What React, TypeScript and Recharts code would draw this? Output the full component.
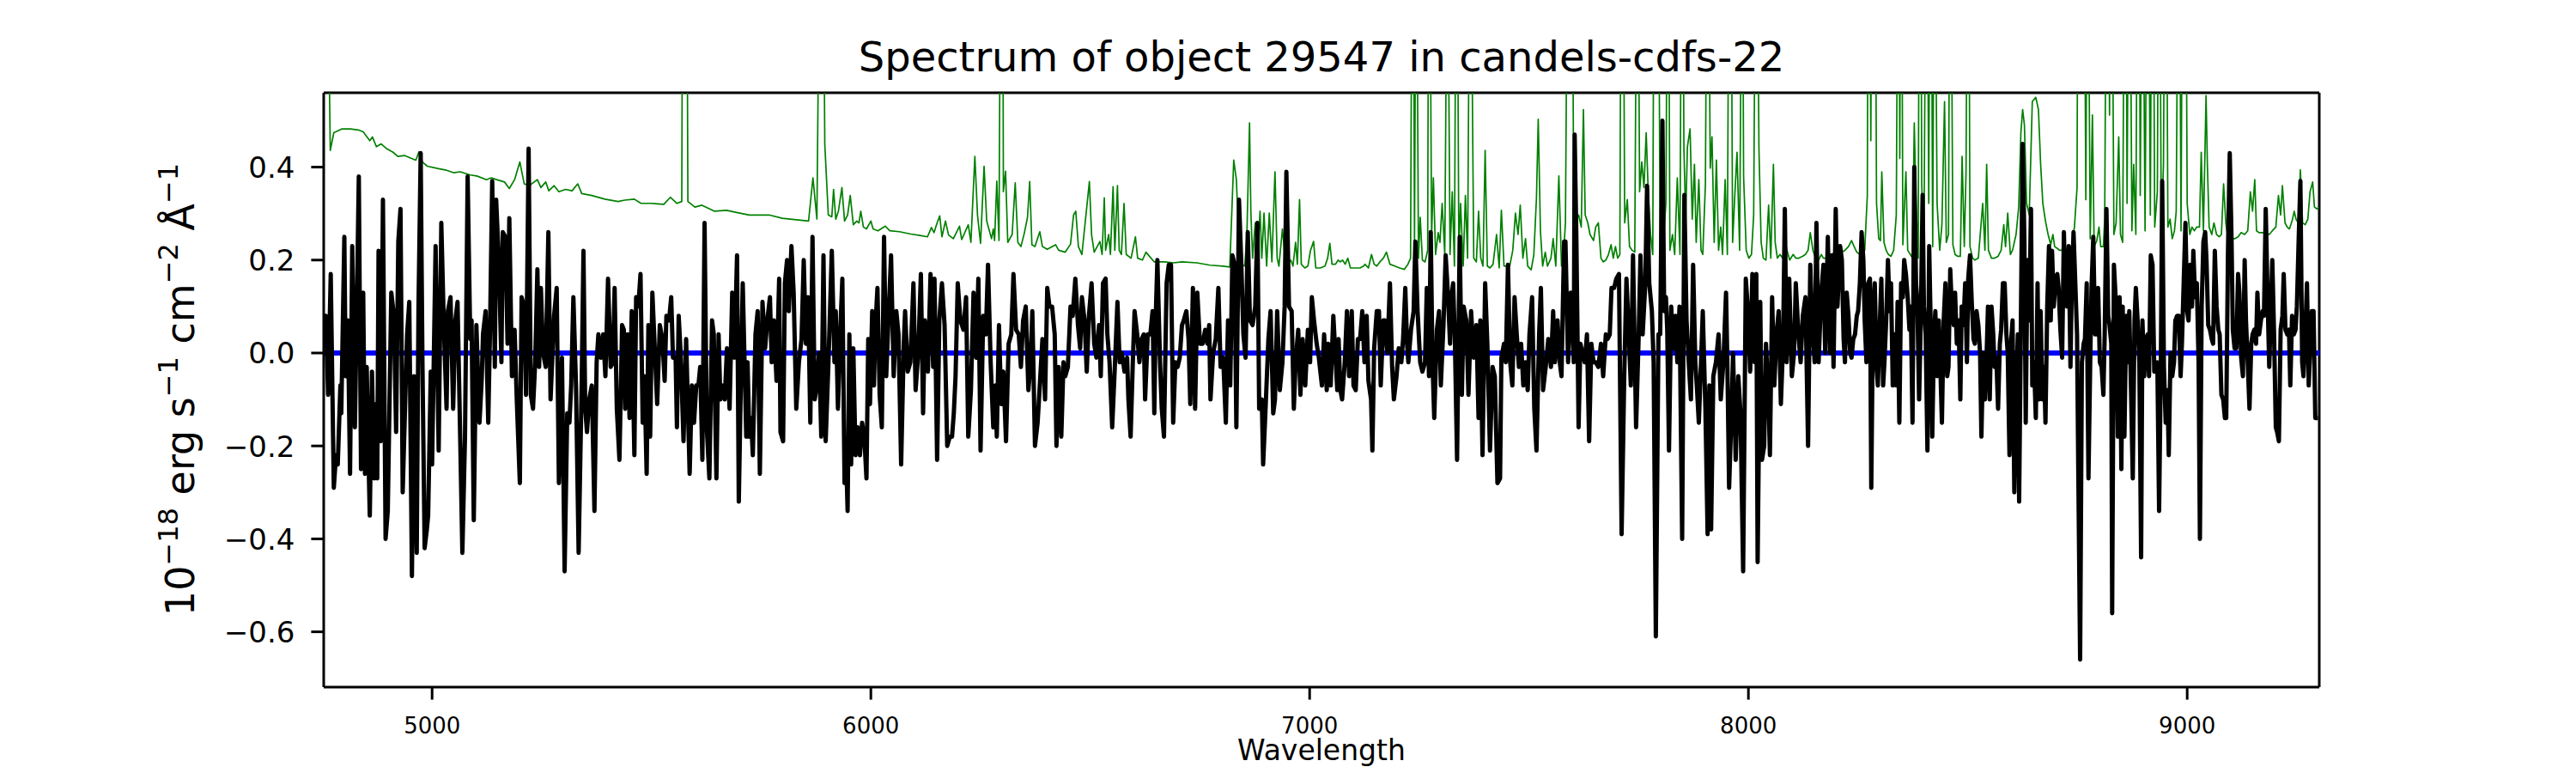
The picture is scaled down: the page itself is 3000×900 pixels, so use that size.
import React from 'react';
import { LineChart, Line, XAxis, YAxis, ReferenceLine } from 'recharts';

// observed spectrum, [wavelength (Å), flux (1e-18 erg/s/cm2/Å)]
const OBS_A: [number, number][] = [
  [4753, 0.07], [4758, 0.08], [4763, -0.09], [4769, 0.17], [4776, -0.29], [4781, -0.22], [4785, -0.24], [4791, -0.07],
  [4793, -0.13], [4800, 0.25], [4803, -0.05], [4808, 0.07], [4813, -0.26], [4818, 0.23], [4824, -0.16], [4828, 0.07],
  [4833, 0.38], [4838, -0.25], [4843, 0.13], [4847, -0.26], [4851, -0.03], [4854, -0.18], [4858, -0.35], [4863, -0.04],
  [4868, -0.27], [4872, -0.11], [4875, -0.27], [4878, 0.22], [4883, -0.19], [4888, 0.33], [4894, -0.4], [4899, -0.34],
  [4907, 0.13], [4913, 0.08], [4918, -0.17], [4923, 0.24], [4928, 0.31], [4933, -0.3], [4943, 0.04], [4948, 0.11],
  [4954, -0.48], [4959, -0.05], [4965, -0.43], [4969, 0.1], [4974, 0.43], [4978, -0.02], [4983, -0.42], [4988, -0.38],
  [4991, -0.35], [4997, -0.04], [5000, -0.24], [5008, 0.23], [5015, -0.21], [5021, 0.28], [5027, 0.05], [5033, -0.12],
  [5036, 0.09], [5042, 0.12], [5048, -0.12], [5053, 0.07], [5058, 0.11], [5064, -0.18], [5069, -0.43], [5075, -0.18],
  [5081, 0.38], [5087, 0.03], [5090, 0.07], [5095, -0.36], [5101, 0.06], [5108, -0.15], [5113, -0.06], [5116, 0.04],
  [5122, 0.09], [5128, -0.15], [5132, 0.05], [5137, 0.37], [5143, -0.03], [5146, 0.33], [5152, 0.2], [5158, -0.02],
  [5161, 0.26], [5167, 0.25], [5172, 0.02], [5176, 0.29], [5182, -0.05], [5188, 0.05], [5193, -0.1], [5200, -0.28],
  [5204, 0.12], [5210, 0.1], [5214, -0.09], [5220, 0.44], [5225, -0.09], [5230, -0.12], [5235, -0.02], [5240, 0.18],
  [5244, -0.03], [5248, 0.14], [5253, 0.0], [5259, -0.03], [5265, 0.26], [5270, -0.1], [5278, 0.08], [5284, 0.14],
  [5289, -0.28], [5296, -0.01], [5302, -0.47], [5308, -0.13], [5313, -0.15], [5317, -0.07], [5322, 0.12], [5328, -0.07],
  [5334, -0.43], [5341, -0.06], [5345, 0.22], [5349, -0.12], [5353, -0.17], [5358, -0.1], [5364, -0.07], [5370, -0.34],
  [5375, -0.02], [5379, 0.04], [5385, -0.01], [5390, 0.04], [5395, -0.05], [5401, 0.16], [5407, -0.03], [5412, -0.02],
  [5416, 0.14], [5421, -0.12], [5427, -0.23], [5433, 0.06], [5437, 0.05], [5440, -0.12], [5446, 0.04], [5450, -0.14],
  [5455, 0.09], [5461, -0.22], [5465, 0.12], [5470, 0.1], [5475, 0.17], [5480, -0.15], [5484, -0.05], [5489, -0.26],
  [5493, 0.06], [5497, -0.18], [5502, 0.13], [5507, 0.02], [5513, -0.11], [5519, 0.06], [5525, 0.03], [5530, -0.06],
  [5534, 0.08], [5540, 0.07], [5545, 0.12], [5549, -0.01], [5555, -0.01], [5558, -0.16], [5562, 0.08], [5567, -0.01],
  [5573, -0.19], [5579, 0.03], [5587, -0.26], [5592, -0.07], [5597, -0.15], [5602, -0.07], [5607, -0.07], [5611, -0.03],
  [5616, -0.23], [5621, 0.28], [5626, -0.16], [5632, -0.27], [5638, 0.07], [5642, 0.04], [5648, -0.27], [5653, 0.04],
  [5657, -0.1], [5662, -0.07], [5667, -0.1], [5672, 0.01], [5678, -0.12], [5684, 0.13], [5689, -0.01], [5695, 0.21],
  [5699, -0.32], [5705, 0.01], [5708, 0.15], [5716, -0.18], [5719, -0.02], [5723, -0.18], [5727, -0.14], [5731, -0.22],
  [5737, 0.04], [5742, 0.09], [5747, -0.26], [5753, 0.11], [5759, 0.01], [5764, 0.07], [5770, 0.12], [5774, -0.02],
  [5779, 0.07], [5785, -0.06], [5791, 0.16], [5794, -0.17], [5800, -0.19], [5804, 0.15], [5809, 0.2], [5813, 0.09],
  [5819, 0.23], [5824, 0.13], [5830, -0.12], [5836, -0.02], [5842, 0.03], [5847, 0.2], [5852, 0.02], [5857, 0.12],
  [5862, -0.15], [5867, 0.25], [5872, -0.1], [5877, -0.07], [5882, 0.0], [5887, -0.18], [5892, 0.21], [5897, -0.19],
  [5903, -0.03],
];

const OBS_B: [number, number][] = [
  [5911, 0.22], [5917, -0.02], [5920, 0.09], [5925, -0.12], [5930, 0.04], [5935, 0.16], [5940, -0.28], [5945, -0.27],
  [5947, -0.34], [5951, 0.04], [5955, -0.24], [5960, 0.01], [5965, -0.22], [5970, -0.16], [5975, -0.22], [5980, -0.15],
  [5985, -0.18], [5990, -0.27], [5994, 0.03], [5998, -0.11], [6003, 0.09], [6007, -0.07], [6010, 0.05], [6015, 0.14],
  [6020, -0.09], [6025, -0.16], [6030, 0.25], [6035, -0.05], [6040, 0.07], [6046, 0.21], [6052, -0.05], [6058, 0.09],
  [6063, 0.04], [6069, -0.24], [6075, 0.02], [6078, 0.09], [6084, -0.04], [6090, -0.02], [6097, 0.15], [6102, -0.08],
  [6108, 0.0], [6114, 0.17], [6119, -0.13], [6123, 0.07], [6130, -0.04], [6136, 0.17], [6142, -0.03], [6145, 0.16],
  [6151, -0.23], [6156, 0.07], [6162, 0.15], [6168, 0.06], [6174, -0.2], [6180, -0.18], [6185, -0.18], [6189, -0.13],
  [6193, -0.05], [6198, 0.15], [6204, 0.07], [6211, 0.05], [6217, 0.12], [6222, -0.18], [6228, -0.08], [6234, 0.13],
  [6240, -0.01], [6245, 0.16], [6250, -0.21], [6256, 0.08], [6262, 0.04], [6267, 0.19], [6273, -0.02], [6279, -0.16],
  [6284, -0.07], [6287, -0.18], [6292, 0.06], [6297, -0.11], [6302, -0.04], [6308, -0.19], [6314, 0.02], [6320, 0.04],
  [6325, 0.17], [6331, 0.05], [6337, 0.04], [6342, -0.03], [6347, 0.07], [6353, 0.1], [6359, -0.08], [6364, -0.02],
  [6368, 0.09], [6374, -0.2], [6380, -0.15], [6385, -0.07], [6391, 0.03], [6397, -0.1], [6402, 0.14], [6407, 0.1],
  [6413, 0.1], [6419, 0.04], [6423, -0.2], [6428, -0.03], [6434, -0.18], [6439, -0.02], [6443, -0.05], [6449, -0.03],
  [6455, 0.1], [6460, 0.08], [6466, 0.16], [6472, 0.06], [6477, 0.01], [6481, 0.12], [6487, 0.07], [6492, -0.04],
  [6497, 0.08], [6503, 0.15], [6509, 0.02], [6514, -0.01], [6520, 0.06], [6524, -0.05], [6529, 0.15], [6535, 0.16],
  [6539, 0.04], [6544, -0.02], [6550, -0.16], [6556, -0.03], [6562, 0.11], [6567, -0.02], [6572, 0.0], [6578, -0.04],
  [6584, -0.01], [6587, -0.1], [6592, -0.18], [6597, -0.02], [6601, 0.09], [6607, 0.04], [6612, -0.02], [6617, 0.03],
  [6622, 0.04], [6625, -0.1], [6631, 0.04], [6637, 0.04], [6642, 0.09], [6646, -0.13], [6649, 0.07], [6653, 0.2],
  [6659, -0.02], [6663, -0.12], [6668, -0.18], [6674, 0.15], [6679, 0.19], [6684, 0.19], [6689, -0.15], [6694, -0.02],
  [6699, -0.03], [6704, -0.01], [6709, 0.06], [6713, 0.07], [6719, 0.09], [6724, 0.03], [6728, -0.11], [6734, 0.14],
  [6739, -0.12], [6744, 0.13], [6750, 0.02], [6756, 0.02], [6762, 0.05], [6767, 0.02], [6771, 0.06], [6774, -0.1],
  [6780, 0.0], [6786, 0.03], [6792, 0.14], [6797, -0.03], [6803, -0.01], [6809, -0.15], [6814, 0.07], [6819, -0.07],
  [6824, 0.21], [6829, 0.19], [6833, -0.16], [6839, 0.33], [6844, 0.2], [6849, 0.04], [6854, -0.01], [6859, 0.26],
  [6864, 0.07], [6870, 0.06], [6876, 0.1], [6881, 0.28], [6885, -0.12], [6891, -0.1], [6894, -0.24], [6900, -0.11],
  [6906, 0.03], [6911, 0.09], [6917, -0.13], [6921, -0.1], [6926, 0.09], [6932, -0.08], [6938, -0.02], [6943, 0.1],
  [6947, 0.39], [6953, 0.1], [6959, 0.09], [6964, -0.12], [6968, -0.02], [6974, 0.05], [6979, -0.09], [6984, 0.03],
  [6990, -0.07], [6996, 0.05], [7001, -0.02], [7005, 0.12], [7010, 0.07], [7016, 0.02], [7021, -0.01], [7028, -0.07],
  [7033, 0.04], [7039, -0.08], [7042, 0.02], [7048, -0.07], [7054, 0.08],
];

const OBS_C: [number, number][] = [
  [7063, -0.08], [7066, 0.03], [7070, -0.08], [7074, -0.1], [7080, -0.02], [7085, 0.09], [7090, -0.05], [7096, 0.09],
  [7100, -0.07], [7105, -0.08], [7110, 0.03], [7115, 0.03], [7120, 0.09], [7125, -0.02], [7130, 0.08], [7134, -0.06],
  [7140, -0.1], [7143, -0.21], [7147, 0.01], [7153, 0.09], [7158, 0.09], [7162, -0.07], [7168, 0.07], [7171, 0.07],
  [7177, 0.0], [7183, 0.15], [7188, -0.03], [7192, -0.1], [7198, -0.05], [7203, 0.01], [7209, -0.02], [7213, 0.03],
  [7218, 0.14], [7222, 0.02], [7225, -0.02], [7231, 0.05], [7237, 0.09], [7241, 0.24], [7246, 0.09], [7252, -0.02],
  [7257, -0.04], [7263, -0.02], [7267, 0.14], [7272, -0.05], [7276, 0.26], [7280, -0.02], [7284, -0.14], [7290, 0.05],
  [7295, 0.09], [7299, -0.07], [7305, 0.06], [7310, 0.21], [7315, 0.13], [7320, 0.02], [7323, 0.12], [7327, 0.15],
  [7331, 0.03], [7336, -0.23], [7342, 0.25], [7347, -0.09], [7351, 0.1], [7357, 0.07], [7362, -0.09], [7368, 0.09],
  [7374, -0.01], [7380, 0.06], [7385, -0.14], [7389, 0.07], [7394, -0.22], [7400, 0.15], [7405, 0.02], [7411, -0.21],
  [7417, -0.03], [7422, -0.05], [7428, -0.28], [7434, -0.27], [7437, -0.01], [7443, 0.02], [7447, -0.02], [7452, 0.19],
  [7457, -0.02], [7462, -0.07], [7467, 0.12], [7472, 0.04], [7477, -0.03], [7482, 0.02], [7487, -0.07], [7492, -0.02],
  [7497, -0.08], [7501, 0.04], [7507, 0.12], [7512, -0.12], [7517, -0.21], [7523, 0.04], [7527, 0.14], [7532, -0.08],
  [7538, -0.03], [7544, 0.03], [7550, -0.03], [7555, 0.09], [7559, -0.02], [7565, 0.07], [7570, -0.02], [7574, -0.05],
  [7580, 0.24], [7583, 0.24], [7589, -0.02], [7595, 0.13], [7598, 0.1], [7602, -0.02], [7604, 0.47], [7608, 0.24],
  [7613, -0.16], [7617, 0.02], [7622, 0.0], [7627, -0.02], [7632, 0.04], [7637, -0.19], [7642, 0.02], [7647, -0.02],
  [7652, -0.02], [7658, -0.03], [7664, 0.02], [7669, -0.05], [7675, 0.04], [7679, 0.03], [7684, 0.04], [7688, 0.14],
  [7694, 0.14], [7699, 0.16], [7705, 0.17], [7711, -0.39], [7717, -0.05], [7722, 0.16], [7727, 0.05], [7732, -0.07],
  [7737, 0.21], [7741, 0.0], [7744, -0.16], [7750, 0.04], [7754, 0.21], [7759, 0.04], [7765, 0.15], [7769, 0.36],
  [7774, 0.15], [7780, 0.09], [7784, -0.02], [7789, -0.61], [7795, 0.04], [7799, 0.04], [7804, 0.5], [7808, 0.09],
  [7812, 0.12], [7815, 0.05], [7819, -0.21], [7824, 0.1], [7829, 0.01], [7834, 0.08], [7838, -0.02], [7843, 0.1],
  [7849, -0.4], [7854, 0.34], [7859, 0.07], [7864, -0.02], [7869, -0.1], [7874, 0.19], [7879, -0.02], [7883, -0.08],
  [7887, -0.15], [7892, -0.02], [7896, 0.09], [7902, -0.12], [7907, -0.39], [7911, -0.07], [7915, -0.38], [7920, -0.05],
  [7926, -0.02], [7932, 0.04], [7937, -0.1], [7943, -0.02], [7949, 0.13], [7952, -0.02], [7956, -0.29], [7962, -0.11],
  [7965, 0.0], [7971, -0.23], [7977, -0.05], [7982, -0.13], [7988, -0.47], [7994, 0.16], [7999, 0.09], [8004, -0.04],
  [8009, 0.17], [8014, -0.02], [8018, 0.17], [8021, -0.45], [8027, 0.11], [8031, -0.23], [8036, -0.2], [8040, 0.02],
  [8046, -0.1], [8049, -0.22], [8054, 0.12], [8059, -0.07], [8064, 0.04], [8069, 0.09], [8074, -0.11], [8079, 0.02],
  [8083, 0.31], [8087, -0.02], [8093, 0.16], [8099, -0.05], [8104, 0.0], [8108, 0.15], [8114, 0.04], [8119, -0.02],
  [8124, 0.08], [8130, 0.12], [8136, -0.2], [8141, 0.19], [8145, 0.07], [8151, -0.02], [8155, 0.28], [8160, -0.02],
  [8166, 0.13], [8171, 0.19], [8175, 0.0], [8181, 0.25], [8186, 0.0], [8190, 0.21], [8194, -0.03], [8199, 0.31],
  [8203, 0.1], [8209, 0.23],
];

const OBS_D: [number, number][] = [
  [8213, 0.2], [8217, 0.03], [8220, -0.02], [8224, 0.13], [8228, 0.08], [8232, 0.0], [8235, -0.01], [8239, 0.03],
  [8243, 0.04], [8247, 0.08], [8250, 0.09], [8254, 0.15], [8258, 0.26], [8262, 0.2], [8265, 0.07], [8269, -0.02],
  [8273, 0.15], [8277, 0.16], [8280, -0.29], [8284, 0.09], [8288, 0.15], [8292, -0.03], [8295, -0.07], [8299, 0.05],
  [8303, 0.16], [8307, -0.07], [8310, -0.02], [8314, 0.07], [8318, 0.2], [8322, 0.09], [8325, 0.15], [8329, -0.07],
  [8333, 0.04], [8337, -0.07], [8340, 0.11], [8344, -0.15], [8348, 0.15], [8352, 0.12], [8355, 0.2], [8359, 0.17],
  [8363, 0.12], [8367, 0.05], [8370, 0.1], [8374, -0.15], [8378, 0.4], [8382, 0.15], [8385, 0.11], [8389, -0.1],
  [8393, 0.08], [8397, 0.34], [8400, 0.1], [8404, 0.04], [8408, -0.21], [8412, 0.23], [8415, 0.08], [8419, -0.18],
  [8423, 0.04], [8426, 0.09], [8430, -0.05], [8434, 0.07], [8438, -0.05], [8441, -0.15], [8445, 0.07], [8449, 0.15],
  [8453, -0.05], [8456, -0.03], [8460, 0.18], [8464, 0.09], [8468, 0.06], [8471, 0.13], [8475, 0.02], [8479, 0.07],
  [8483, -0.1], [8486, 0.1], [8490, 0.06], [8494, 0.15], [8498, -0.02], [8501, 0.16], [8505, 0.21], [8509, 0.11],
  [8513, 0.03], [8516, 0.02], [8520, 0.09], [8524, 0.06], [8528, 0.0], [8531, -0.18], [8535, 0.0], [8539, -0.1],
  [8543, 0.0], [8546, 0.1], [8550, -0.1], [8554, 0.1], [8558, 0.04], [8561, -0.03], [8565, -0.01], [8569, -0.12],
  [8573, 0.02], [8576, 0.05], [8580, 0.15], [8584, 0.15], [8588, 0.04], [8591, 0.0], [8595, -0.22], [8599, 0.03],
  [8602, 0.07], [8606, -0.3], [8610, -0.1], [8614, 0.04], [8617, -0.32], [8621, 0.07], [8625, 0.45], [8629, 0.24],
  [8632, -0.15], [8636, 0.2], [8640, 0.07], [8644, 0.31], [8647, -0.07], [8651, -0.02], [8655, -0.14], [8659, 0.15],
  [8662, -0.1], [8666, 0.09], [8670, -0.1], [8674, -0.03], [8677, -0.15], [8681, 0.1], [8685, 0.23], [8689, 0.07],
  [8692, 0.22], [8696, 0.1], [8700, 0.16], [8704, 0.17], [8707, 0.14], [8711, 0.05], [8715, -0.01], [8719, 0.26],
  [8722, 0.14], [8726, 0.1], [8730, 0.23], [8734, -0.03], [8737, 0.15], [8741, 0.26], [8745, 0.15], [8749, 0.04],
  [8752, -0.27], [8756, -0.66], [8760, -0.02], [8764, 0.02], [8767, 0.03], [8771, 0.15], [8775, -0.27], [8779, -0.02],
  [8782, 0.14], [8786, 0.25], [8790, 0.04], [8794, 0.04], [8797, 0.14], [8801, -0.02], [8805, -0.03], [8809, -0.09],
  [8812, 0.04], [8816, 0.31], [8820, 0.08], [8823, 0.06], [8827, 0.02], [8829, -0.56], [8833, 0.19], [8838, 0.1],
  [8842, -0.18], [8846, 0.12], [8850, -0.25], [8853, 0.1], [8857, -0.18], [8861, 0.08], [8865, -0.02], [8868, 0.09],
  [8872, -0.08], [8876, -0.27], [8880, 0.07], [8883, 0.14], [8887, 0.07], [8891, -0.02], [8895, -0.44], [8898, 0.07],
  [8902, -0.05], [8906, 0.03], [8910, 0.04], [8913, -0.05], [8917, 0.21], [8921, 0.19], [8925, -0.04], [8928, -0.03],
  [8932, -0.02], [8936, -0.34], [8940, -0.02], [8943, 0.37], [8947, -0.03], [8951, -0.15], [8955, -0.08], [8958, -0.22],
  [8962, 0.0], [8966, -0.05], [8970, -0.02], [8973, 0.07], [8977, 0.08], [8981, 0.08], [8985, -0.05], [8988, 0.02],
  [8992, 0.15], [8996, 0.28], [9000, 0.09], [9003, 0.07], [9007, 0.19], [9011, 0.1], [9014, 0.22], [9018, 0.12],
  [9022, 0.15], [9026, -0.02], [9029, -0.4], [9033, 0.1], [9037, 0.24], [9041, 0.26], [9044, 0.2], [9048, 0.06],
  [9052, 0.05], [9056, 0.03], [9059, 0.02], [9063, 0.22], [9067, 0.1], [9071, 0.05], [9074, 0.04], [9078, -0.09],
  [9082, -0.1], [9086, -0.14], [9089, -0.14], [9093, 0.22], [9097, 0.43], [9101, 0.25], [9104, 0.05], [9108, 0.01],
  [9112, 0.01], [9116, 0.17], [9119, 0.13], [9123, -0.01], [9127, -0.05], [9131, 0.2], [9134, 0.07], [9138, -0.02],
  [9142, -0.12], [9146, 0.02], [9149, 0.04], [9153, 0.05], [9157, 0.02], [9160, 0.13], [9164, 0.04], [9168, 0.07],
  [9172, 0.09], [9175, 0.08], [9179, 0.31], [9183, 0.13], [9187, -0.03], [9190, 0.07], [9194, 0.2], [9198, 0.04],
  [9202, -0.16], [9205, -0.17], [9209, -0.19], [9213, 0.05], [9217, 0.08], [9220, 0.17], [9224, 0.05], [9228, 0.04],
  [9232, 0.05], [9235, -0.07], [9239, 0.08], [9243, 0.04], [9247, 0.05], [9250, 0.1], [9254, 0.24], [9258, 0.37],
  [9262, -0.02], [9265, -0.05], [9269, 0.04], [9273, 0.15], [9277, -0.07], [9280, 0.0], [9284, 0.09], [9288, 0.09],
  [9292, -0.14], [9298, -0.14],
];

// sky / noise spectrum; values above the frame are clipped
const SKY_A: [number, number][] = [
  [4753, 1.2], [4760, 1.0], [4768, 0.436], [4776, 0.474], [4794, 0.482], [4814, 0.482], [4832, 0.48], [4843, 0.476],
  [4858, 0.457], [4864, 0.465], [4873, 0.444], [4884, 0.45], [4896, 0.44], [4911, 0.432], [4922, 0.423], [4937, 0.425],
  [4952, 0.419], [4963, 0.415], [4970, 0.433], [4978, 0.411], [4989, 0.402], [5008, 0.398], [5030, 0.394], [5049, 0.388],
  [5064, 0.39], [5087, 0.383], [5102, 0.381], [5124, 0.373], [5135, 0.377], [5147, 0.373], [5165, 0.368], [5176, 0.354],
  [5188, 0.373], [5200, 0.411], [5210, 0.364], [5221, 0.36], [5240, 0.373], [5248, 0.356], [5259, 0.368], [5266, 0.349],
  [5278, 0.36], [5289, 0.347], [5304, 0.352], [5319, 0.349], [5332, 0.364], [5341, 0.343], [5364, 0.339], [5394, 0.331],
  [5424, 0.326], [5439, 0.329], [5461, 0.331], [5476, 0.322], [5498, 0.322], [5528, 0.32], [5543, 0.335], [5558, 0.322],
  [5569, 0.326], [5573, 1.5], [5579, 1.3], [5583, 0.326], [5599, 0.314], [5615, 0.318], [5644, 0.305], [5671, 0.307],
  [5701, 0.301], [5723, 0.297], [5768, 0.297], [5798, 0.29], [5858, 0.284], [5868, 0.377], [5877, 0.288], [5888, 1.4],
  [5895, 0.449], [5903, 0.297],
];

const SKY_B: [number, number][] = [
  [5911, 0.293], [5915, 0.352], [5920, 0.288], [5926, 0.305], [5934, 0.356], [5940, 0.284], [5947, 0.297], [5953, 0.339],
  [5960, 0.276], [5968, 0.284], [5973, 0.28], [5977, 0.305], [5983, 0.271], [5990, 0.267], [6000, 0.284], [6005, 0.267],
  [6016, 0.263], [6033, 0.273], [6043, 0.263], [6065, 0.261], [6091, 0.256], [6112, 0.253], [6129, 0.25], [6138, 0.27],
  [6144, 0.259], [6151, 0.28], [6157, 0.295], [6162, 0.25], [6170, 0.284], [6177, 0.254], [6188, 0.246], [6202, 0.273],
  [6207, 0.244], [6222, 0.276], [6228, 0.238], [6237, 0.423], [6243, 0.297], [6250, 0.236], [6258, 0.402], [6264, 0.284],
  [6275, 0.246], [6279, 0.267], [6282, 0.242], [6287, 0.37], [6292, 0.242], [6299, 1.6], [6302, 0.347], [6307, 0.391],
  [6312, 0.238], [6322, 0.255], [6329, 0.366], [6335, 0.238], [6342, 0.229], [6350, 0.259], [6357, 0.292], [6362, 0.369],
  [6367, 0.233], [6374, 0.229], [6385, 0.261], [6391, 0.229], [6402, 0.223], [6421, 0.233], [6428, 0.221], [6443, 0.217],
  [6455, 0.234], [6462, 0.297], [6467, 0.305], [6473, 0.229], [6481, 0.212], [6498, 0.369], [6503, 0.255], [6509, 0.217],
  [6522, 0.24], [6527, 0.212], [6532, 0.334], [6535, 0.221], [6542, 0.255], [6546, 0.212], [6552, 0.358], [6556, 0.221],
  [6562, 0.36], [6566, 0.221], [6571, 0.212], [6577, 0.322], [6582, 0.212], [6593, 0.204], [6603, 0.25], [6608, 0.204],
  [6619, 0.2], [6627, 0.217], [6646, 0.196], [6669, 0.196], [6690, 0.194], [6709, 0.196], [6743, 0.194], [6773, 0.189],
  [6803, 0.187], [6818, 0.185], [6827, 0.415], [6833, 0.373], [6839, 0.238], [6845, 0.191], [6852, 0.187], [6857, 0.255],
  [6863, 0.495], [6866, 0.305], [6870, 0.204], [6876, 0.28], [6881, 0.196], [6887, 0.305], [6891, 0.204], [6896, 0.301],
  [6902, 0.187], [6908, 0.301], [6914, 0.196], [6921, 0.39], [6926, 0.204], [6930, 0.187], [6938, 0.267], [6944, 0.204],
  [6949, 0.191], [6957, 0.2], [6962, 0.187], [6968, 0.238], [6972, 0.191], [6977, 0.33], [6981, 0.191], [6989, 0.183],
  [6996, 0.187], [7002, 0.221], [7009, 0.24], [7014, 0.183], [7024, 0.183], [7035, 0.187], [7041, 0.204], [7046, 0.236],
  [7051, 0.191],
];

const SKY_C: [number, number][] = [
  [7059, 0.191], [7065, 0.2], [7070, 0.196], [7075, 0.2], [7081, 0.191], [7087, 0.204], [7093, 0.183], [7104, 0.183],
  [7115, 0.183], [7123, 0.187], [7126, 0.191], [7134, 0.183], [7141, 0.212], [7147, 0.191], [7153, 0.187], [7160, 0.196],
  [7168, 0.204], [7175, 0.217], [7183, 0.191], [7194, 0.187], [7205, 0.183], [7216, 0.18], [7224, 0.191], [7230, 0.204],
  [7235, 1.3], [7239, 0.238], [7243, 1.1], [7248, 0.204], [7252, 0.292], [7257, 0.2], [7263, 0.196], [7269, 0.221],
  [7272, 1.2], [7278, 0.255], [7282, 0.377], [7287, 0.212], [7293, 0.259], [7297, 0.238], [7302, 0.322], [7308, 0.212],
  [7314, 1.0], [7320, 0.212], [7325, 0.347], [7330, 0.187], [7335, 1.2], [7340, 0.221], [7344, 0.322], [7350, 0.187],
  [7355, 0.339], [7360, 0.204], [7366, 1.1], [7374, 0.204], [7380, 0.196], [7385, 0.305], [7390, 0.204], [7395, 0.187],
  [7400, 0.436], [7405, 0.187], [7411, 0.183], [7418, 0.191], [7426, 0.255], [7432, 0.183], [7437, 0.307], [7443, 0.187],
  [7450, 0.187], [7456, 0.187], [7463, 0.221], [7469, 0.301], [7475, 0.255], [7480, 0.318], [7486, 0.204], [7492, 0.246],
  [7497, 0.187], [7505, 0.179], [7511, 0.212], [7517, 0.335], [7521, 0.503], [7526, 0.263], [7531, 0.187], [7537, 0.217],
  [7542, 0.187], [7550, 0.204], [7555, 0.246], [7561, 0.187], [7568, 0.381], [7574, 0.187], [7580, 0.233], [7583, 0.28],
  [7591, 1.4], [7597, 1.2], [7602, 0.297], [7607, 0.288], [7613, 0.297], [7619, 0.271], [7624, 0.524], [7628, 0.297],
  [7634, 0.28], [7639, 0.255], [7647, 0.242], [7652, 0.271], [7658, 0.28], [7664, 0.204], [7669, 0.196], [7675, 0.2],
  [7681, 0.212], [7687, 0.233], [7692, 0.204], [7697, 0.229], [7702, 0.204], [7707, 0.212], [7711, 1.3], [7714, 1.1],
  [7718, 0.28], [7724, 0.33], [7729, 0.229], [7735, 0.221], [7741, 0.217], [7747, 1.2], [7752, 0.347], [7757, 0.411],
  [7762, 0.356], [7767, 0.474], [7772, 0.339], [7777, 0.255], [7782, 0.212], [7787, 1.5], [7793, 1.3], [7799, 0.196],
  [7804, 0.212], [7812, 0.322], [7817, 1.2], [7821, 0.221], [7827, 0.255], [7832, 0.212], [7838, 0.377], [7844, 0.212],
  [7849, 1.3], [7853, 0.44], [7857, 0.288], [7861, 0.444], [7867, 0.482], [7872, 0.288], [7877, 0.406], [7881, 0.238],
  [7887, 0.373], [7892, 0.221], [7896, 0.212], [7902, 0.364], [7907, 1.2], [7913, 0.398], [7917, 0.465], [7922, 0.238],
  [7927, 0.415], [7932, 0.221], [7937, 0.271], [7941, 0.212], [7947, 0.373], [7952, 0.212], [7958, 1.4], [7964, 0.238],
  [7969, 0.339], [7974, 0.432], [7980, 0.221], [7986, 1.1], [7989, 0.381], [7995, 0.221], [8001, 0.204], [8007, 0.212],
  [8012, 0.297], [8018, 1.2], [8024, 0.44], [8029, 0.238], [8034, 0.204], [8040, 0.2], [8046, 0.318], [8051, 0.204],
  [8057, 0.406], [8061, 0.238], [8066, 0.204], [8072, 0.212], [8078, 0.204], [8084, 0.238], [8089, 0.217], [8094, 0.2],
  [8102, 0.212], [8108, 0.204], [8115, 0.204], [8123, 0.208], [8130, 0.212], [8136, 0.221], [8141, 0.259], [8147, 0.221],
  [8153, 0.204], [8160, 0.2], [8166, 0.212], [8171, 0.204], [8176, 0.204], [8182, 0.212], [8190, 0.212], [8197, 0.217],
  [8205, 0.212],
];

const SKY_D: [number, number][] = [
  [8213, 0.217], [8220, 0.221], [8228, 0.229], [8235, 0.242], [8241, 0.229], [8247, 0.217], [8254, 0.212], [8259, 0.212],
  [8265, 0.221], [8271, 0.339], [8274, 1.3], [8279, 0.457], [8283, 1.4], [8288, 1.2], [8292, 0.322], [8297, 0.246],
  [8301, 0.242], [8304, 0.39], [8309, 0.238], [8314, 0.221], [8319, 0.212], [8325, 0.208], [8331, 0.221], [8337, 0.297],
  [8342, 1.2], [8345, 0.419], [8348, 1.3], [8352, 0.233], [8359, 0.39], [8363, 0.221], [8369, 0.212], [8374, 0.204],
  [8378, 0.495], [8382, 0.322], [8387, 0.204], [8391, 1.5], [8395, 0.364], [8400, 0.221], [8406, 1.2], [8411, 0.322],
  [8415, 1.3], [8420, 0.229], [8424, 1.1], [8430, 0.322], [8436, 0.221], [8441, 0.276], [8447, 0.541], [8451, 0.238],
  [8456, 0.255], [8460, 1.2], [8466, 0.233], [8471, 0.212], [8477, 0.208], [8483, 0.208], [8487, 0.423], [8492, 0.229],
  [8496, 0.39], [8501, 1.3], [8505, 0.229], [8511, 0.204], [8516, 0.2], [8524, 0.204], [8534, 0.322], [8539, 0.221],
  [8543, 0.406], [8547, 0.221], [8554, 0.204], [8561, 0.204], [8569, 0.208], [8576, 0.221], [8582, 0.276], [8586, 0.229],
  [8591, 0.301], [8597, 0.212], [8602, 0.221], [8610, 0.255], [8616, 0.314], [8621, 0.474], [8625, 0.524], [8629, 0.491],
  [8634, 0.322], [8640, 0.297], [8647, 0.541], [8655, 0.55], [8661, 0.524], [8666, 0.406], [8671, 0.322], [8677, 0.284],
  [8683, 0.255], [8689, 0.233], [8694, 0.255], [8698, 0.229], [8704, 0.225], [8709, 0.221], [8715, 0.221], [8730, 0.221],
  [8737, 0.229], [8743, 0.271], [8749, 0.356], [8752, 1.3], [8758, 1.4], [8764, 1.2], [8769, 0.33], [8773, 1.1],
  [8779, 0.246], [8784, 0.512], [8788, 0.229], [8794, 0.242], [8799, 0.271], [8803, 0.229], [8809, 0.229], [8812, 0.288],
  [8818, 1.3], [8823, 0.512], [8827, 1.2], [8833, 0.255], [8838, 0.28], [8844, 0.465], [8848, 0.255], [8853, 0.238],
  [8859, 1.3], [8863, 0.322], [8868, 1.2], [8874, 0.263], [8878, 0.406], [8883, 0.255], [8889, 1.4], [8893, 0.339],
  [8898, 1.1], [8904, 0.263], [8910, 1.2], [8916, 0.297], [8921, 1.3], [8926, 0.271], [8932, 0.347], [8936, 1.2],
  [8941, 0.255], [8946, 0.406], [8951, 1.3], [8956, 0.271], [8961, 0.288], [8966, 0.246], [8971, 0.263], [8975, 0.305],
  [8981, 1.2], [8986, 0.263], [8991, 1.3], [8996, 1.1], [9000, 0.322], [9006, 0.255], [9011, 0.271], [9016, 0.263],
  [9022, 0.271], [9028, 0.271], [9032, 0.432], [9037, 0.263], [9043, 0.554], [9046, 0.406], [9050, 0.271], [9056, 0.255],
  [9061, 0.28], [9067, 0.255], [9073, 0.25], [9078, 0.255], [9083, 0.364], [9088, 0.28], [9093, 0.246], [9101, 0.246],
  [9108, 0.246], [9116, 0.25], [9123, 0.259], [9131, 0.255], [9138, 0.263], [9144, 0.347], [9149, 0.305], [9154, 0.373],
  [9158, 0.263], [9164, 0.259], [9172, 0.259], [9179, 0.259], [9187, 0.255], [9194, 0.263], [9202, 0.271], [9208, 0.339],
  [9213, 0.297], [9217, 0.36], [9223, 0.28], [9228, 0.271], [9233, 0.267], [9239, 0.284], [9244, 0.305], [9248, 0.288],
  [9253, 0.28], [9258, 0.394], [9263, 0.28], [9269, 0.276], [9275, 0.288], [9280, 0.347], [9286, 0.368], [9290, 0.314],
  [9296, 0.31], [9300, 0.314],
];

// model (flat zero)
const MODEL: [number, number][] = [[4753, 0], [9301, 0]];

const X_RANGE = [4753, 9301];
const Y_RANGE = [-0.719, 0.56];
const X_TICKS = [5000, 6000, 7000, 8000, 9000];
const Y_TICKS = [-0.6, -0.4, -0.2, 0, 0.2, 0.4];

const FONT = '"DejaVu Sans", sans-serif';

const toRows = (pairs: [number, number][]) => pairs.map(([w, f]) => ({ w, f }));
const observed = toRows([...OBS_A, ...OBS_B, ...OBS_C, ...OBS_D]);
const sky = toRows([...SKY_A, ...SKY_B, ...SKY_C, ...SKY_D]);
const model = toRows(MODEL);

const XTick = ({ x, y, payload }: any) => (
  <text x={x} y={y + 39} textAnchor="middle" fontSize={26} fontFamily={FONT} fill="#000">
    {payload.value}
  </text>
);

const YTick = ({ x, y, payload }: any) => (
  <text x={x - 19} y={y + 12.4} textAnchor="end" fontSize={34} fontFamily={FONT} fill="#000">
    {payload.value.toFixed(1).replace('-', '\u2212')}
  </text>
);

const Labels = () => (
  <svg width={3000} height={900} style={{ position: 'absolute', left: 0, top: 0, pointerEvents: 'none' }}>
    <text x={1539} y={83} textAnchor="middle" fontSize={48} fontFamily={FONT} fill="#000">
      Spectrum of object 29547 in candels-cdfs-22
    </text>
    <text x={1539} y={885} textAnchor="middle" fontSize={33} fontFamily={FONT} fill="#000">
      Wavelength
    </text>
    <text x={225.5} y={453.5} transform="rotate(-90 225.5 453.5)" textAnchor="middle" fontSize={46} fontFamily={FONT} fill="#000">
      <tspan>10</tspan>
      <tspan dy={-19} fontSize={32}>{'\u221218'}</tspan>
      <tspan dy={19}>{' erg s'}</tspan>
      <tspan dy={-19} fontSize={32}>{'\u22121'}</tspan>
      <tspan dy={19}>{' cm'}</tspan>
      <tspan dy={-19} fontSize={32}>{'\u22122'}</tspan>
      <tspan dy={19}>{' \u00c5'}</tspan>
      <tspan dy={-19} fontSize={32}>{'\u22121'}</tspan>
    </text>
  </svg>
);

export default function App() {
  return (
    <div style={{ position: 'absolute', left: 0, top: 0, width: 3000, height: 900, background: '#fff' }}>
      <LineChart width={3000} height={900} margin={{ top: 108, right: 299, bottom: 40, left: 297 }}>
        <XAxis
          dataKey="w"
          type="number"
          domain={X_RANGE}
          ticks={X_TICKS}
          allowDataOverflow
          height={60}
          tickSize={14.6}
          tickMargin={0}
          tick={<XTick />}
          axisLine={{ stroke: '#000', strokeWidth: 3 }}
          tickLine={{ stroke: '#000', strokeWidth: 3 }}
        />
        <YAxis
          type="number"
          domain={Y_RANGE}
          ticks={Y_TICKS}
          allowDataOverflow
          width={80}
          tickSize={14.6}
          tickMargin={0}
          tick={<YTick />}
          axisLine={{ stroke: '#000', strokeWidth: 3 }}
          tickLine={{ stroke: '#000', strokeWidth: 3 }}
        />
        <ReferenceLine y={Y_RANGE[1]} stroke="#000" strokeWidth={3} />
        <ReferenceLine x={X_RANGE[1]} stroke="#000" strokeWidth={3} />
        <Line data={sky} dataKey="f" type="linear" stroke="#008000" strokeWidth={1.7} dot={false} isAnimationActive={false} strokeLinejoin="round" />
        <Line data={model} dataKey="f" type="linear" stroke="#0000ff" strokeWidth={6} dot={false} isAnimationActive={false} />
        <Line data={observed} dataKey="f" type="linear" stroke="#000" strokeWidth={5} dot={false} isAnimationActive={false} strokeLinejoin="round" />
      </LineChart>
      <Labels />
    </div>
  );
}
